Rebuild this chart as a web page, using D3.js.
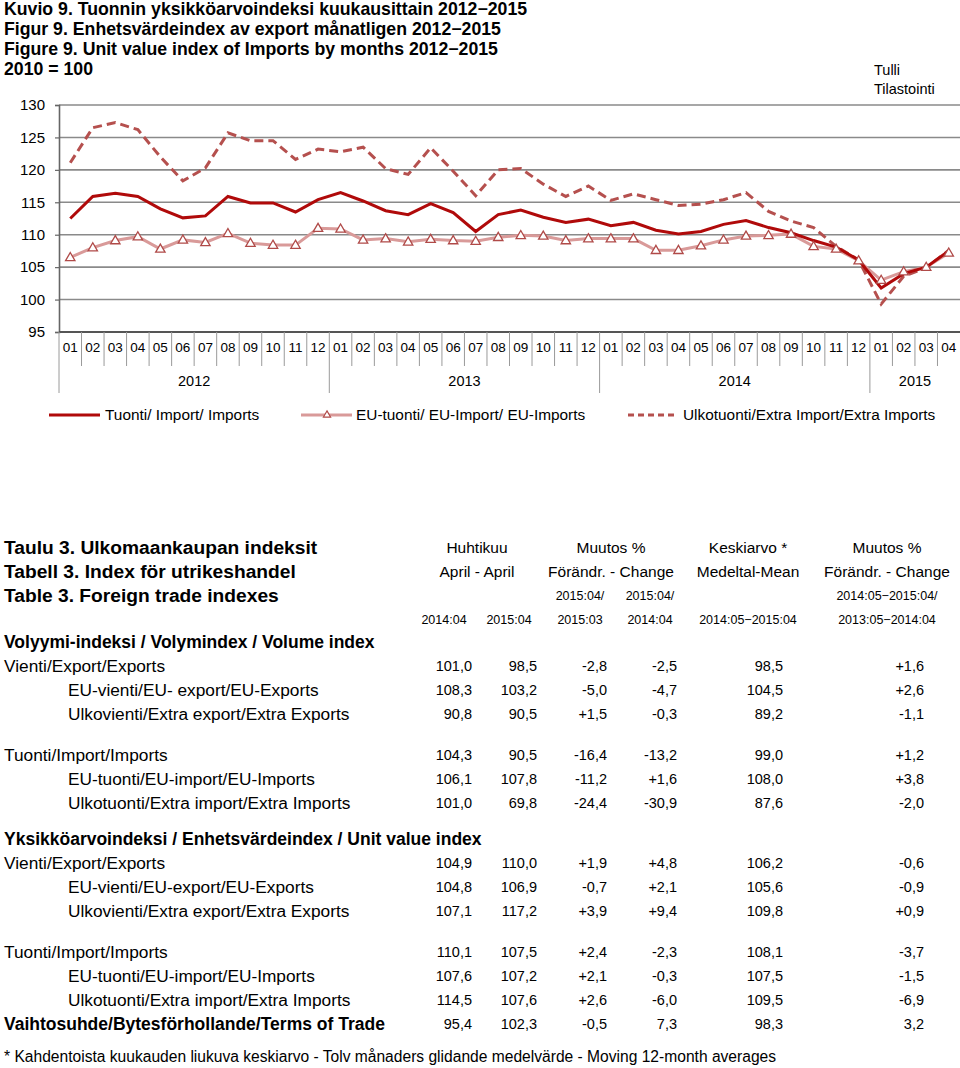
<!DOCTYPE html>
<html>
<head>
<meta charset="utf-8">
<script src="https://cdn.jsdelivr.net/npm/d3@7"></script>
<style>
  body { margin: 0; background: #fff; }
  svg { font-family: "Liberation Sans", Arial, sans-serif; }
</style>
</head>
<body>
<div id="vis"></div>
<script>
// chart data
const MONTHS = ["01","02","03","04","05","06","07","08","09","10","11","12",
                "01","02","03","04","05","06","07","08","09","10","11","12",
                "01","02","03","04","05","06","07","08","09","10","11","12",
                "01","02","03","04"];
const YEARS = ["2012", "2013", "2014", "2015"];
const Y_TICKS = [95, 100, 105, 110, 115, 120, 125, 130];

const IMPORTS = [112.5,115.9,116.4,115.9,114.0,112.6,112.9,115.9,114.9,114.9,113.5,115.4,
                 116.5,115.2,113.7,113.1,114.8,113.4,110.5,113.1,113.8,112.7,111.9,112.4,
                 111.4,111.9,110.7,110.1,110.5,111.6,112.2,111.1,110.3,109.1,108.1,106.1,
                 101.8,104.0,105.0,107.5];
const EU_IMPORTS = [106.5,108.0,109.1,109.7,107.8,109.2,108.8,110.2,108.7,108.4,108.4,111.0,
                    110.9,109.2,109.4,108.9,109.3,109.1,109.0,109.6,109.9,109.8,109.1,109.4,
                    109.4,109.4,107.6,107.6,108.3,109.2,109.8,109.9,110.1,108.2,107.8,106.0,
                    103.0,104.3,105.0,107.2];
const EXTRA_IMPORTS = [121.1,126.5,127.3,126.2,122.0,118.3,120.3,125.7,124.5,124.5,121.6,123.2,
                       122.8,123.5,120.2,119.3,123.4,119.8,116.0,120.0,120.2,117.8,115.9,117.5,
                       115.3,116.3,115.4,114.5,114.7,115.4,116.5,113.6,112.1,111.1,108.2,106.1,
                       99.3,103.6,104.9,107.6];

const TITLES = ["Kuvio 9. Tuonnin yksikköarvoindeksi kuukausittain 2012\u22122015",
                "Figur 9. Enhetsvärdeindex av export månatligen 2012\u22122015",
                "Figure 9. Unit value index of Imports by months 2012\u22122015",
                "2010 = 100"];
const SOURCE = ["Tulli", "Tilastointi"];
const LEGEND = ["Tuonti/ Import/ Imports", "EU-tuonti/ EU-Import/ EU-Imports",
                "Ulkotuonti/Extra Import/Extra Imports"];

// table data
const TABLE_TITLES = ["Taulu 3. Ulkomaankaupan indeksit", "Tabell 3. Index för utrikeshandel",
                      "Table 3. Foreign trade indexes"];
const HEAD_1 = ["Huhtikuu", "Muutos %", "Keskiarvo *", "Muutos %"];
const HEAD_2 = ["April - April", "Förändr. - Change", "Medeltal-Mean", "Förändr. - Change"];
const HEAD_3 = ["", "", "2015:04/", "2015:04/", "", "2014:05\u22122015:04/"];
const HEAD_4 = ["2014:04", "2015:04", "2015:03", "2014:04", "2014:05\u22122015:04", "2013:05\u22122014:04"];

const SECTION_LABELS = ["Volyymi-indeksi / Volymindex / Volume index",
                        "Yksikköarvoindeksi / Enhetsvärdeindex / Unit value index"];
const VOLUME_LABELS = ["Vienti/Export/Exports", "EU-vienti/EU- export/EU-Exports",
                       "Ulkovienti/Extra export/Extra Exports", "Tuonti/Import/Imports",
                       "EU-tuonti/EU-import/EU-Imports", "Ulkotuonti/Extra import/Extra Imports"];
const VOLUME_VALUES = [["101,0","98,5","-2,8","-2,5","98,5","+1,6"],
                       ["108,3","103,2","-5,0","-4,7","104,5","+2,6"],
                       ["90,8","90,5","+1,5","-0,3","89,2","-1,1"],
                       ["104,3","90,5","-16,4","-13,2","99,0","+1,2"],
                       ["106,1","107,8","-11,2","+1,6","108,0","+3,8"],
                       ["101,0","69,8","-24,4","-30,9","87,6","-2,0"]];
const UNIT_LABELS = ["Vienti/Export/Exports", "EU-vienti/EU-export/EU-Exports",
                     "Ulkovienti/Extra export/Extra Exports", "Tuonti/Import/Imports",
                     "EU-tuonti/EU-import/EU-Imports", "Ulkotuonti/Extra import/Extra Imports"];
const UNIT_VALUES = [["104,9","110,0","+1,9","+4,8","106,2","-0,6"],
                     ["104,8","106,9","-0,7","+2,1","105,6","-0,9"],
                     ["107,1","117,2","+3,9","+9,4","109,8","+0,9"],
                     ["110,1","107,5","+2,4","-2,3","108,1","-3,7"],
                     ["107,6","107,2","+2,1","-0,3","107,5","-1,5"],
                     ["114,5","107,6","+2,6","-6,0","109,5","-6,9"]];
const TOT_LABEL = "Vaihtosuhde/Bytesförhollande/Terms of Trade";
const TOT_VALUES = ["95,4","102,3","-0,5","7,3","98,3","3,2"];
const FOOTNOTE = "* Kahdentoista kuukauden liukuva keskiarvo - Tolv månaders glidande medelvärde - Moving 12-month averages";

// layout constants
const WIDTH = 960, HEIGHT = 1068;
const PLOT = {left: 59, right: 960, top: 105, bottom: 332};
const C_TOTAL = "#b00a0a", C_EU = "#d99a99", C_EU_MARK = "#b04a48", C_EXTRA = "#b5504e";
const GRID = "#8a8a8a";

const SVG = d3.select("#vis").append("svg")
    .attr("width", WIDTH).attr("height", HEIGHT);

// titles
SVG.selectAll(".title").data(TITLES).enter().append("text")
    .attr("x", 4).attr("y", (d, i) => 15 + i * 20)
    .attr("font-size", "17.7px").attr("font-weight", "bold").text(d => d);

SVG.selectAll(".src").data(SOURCE).enter().append("text")
    .attr("x", 874).attr("y", (d, i) => 75 + i * 19)
    .attr("font-size", "14.5px").text(d => d);

// scales
const X_SCALE = d3.scaleBand().domain(d3.range(MONTHS.length))
    .range([PLOT.left, PLOT.right]).paddingInner(0).paddingOuter(0);
const Y_SCALE = d3.scaleLinear().domain([95, 130]).range([PLOT.bottom, PLOT.top]);
const xc = i => X_SCALE(i) + X_SCALE.bandwidth() / 2;

// grid lines
SVG.append("g").selectAll("line").data(Y_TICKS.filter(v => v > 95)).enter().append("line")
    .attr("x1", PLOT.left).attr("x2", PLOT.right)
    .attr("y1", d => Y_SCALE(d)).attr("y2", d => Y_SCALE(d))
    .attr("stroke", GRID).attr("stroke-width", 1.6);

// y axis
const yAxis = SVG.append("g").attr("transform", "translate(" + PLOT.left + ",0)")
    .call(d3.axisLeft(Y_SCALE).tickValues(Y_TICKS).tickSize(4).tickPadding(10));
yAxis.select(".domain").attr("stroke", "#666").attr("stroke-width", 1.6);
yAxis.selectAll(".tick line").attr("stroke", "#666").attr("stroke-width", 1.2);
yAxis.selectAll(".tick text").attr("font-size", "15px").attr("fill", "#000")
    .attr("font-family", "Liberation Sans, Arial, sans-serif");

// x axis baseline
SVG.append("line").attr("x1", PLOT.left).attr("x2", PLOT.right)
    .attr("y1", PLOT.bottom).attr("y2", PLOT.bottom)
    .attr("stroke", "#555").attr("stroke-width", 2);

// month separators
SVG.append("g").selectAll("line").data(d3.range(MONTHS.length)).enter().append("line")
    .attr("x1", d => X_SCALE(d)).attr("x2", d => X_SCALE(d))
    .attr("y1", PLOT.bottom)
    .attr("y2", d => d % 12 === 0 ? 393 : 366)
    .attr("stroke", "#9a9a9a").attr("stroke-width", 1);

SVG.append("g").selectAll("text").data(MONTHS).enter().append("text")
    .attr("x", (d, i) => xc(i)).attr("y", 352)
    .attr("text-anchor", "middle").attr("font-size", "13.5px").text(d => d);

SVG.append("g").selectAll("text").data(YEARS).enter().append("text")
    .attr("x", (d, i) => {
        const a = X_SCALE(i * 12);
        const b = Math.min((i + 1) * 12, MONTHS.length);
        const e = b === MONTHS.length ? PLOT.right : X_SCALE(b);
        return (a + e) / 2;
    })
    .attr("y", 386).attr("text-anchor", "middle").attr("font-size", "14.5px").text(d => d);

// lines
const line = d3.line().x((d, i) => xc(i)).y(d => Y_SCALE(d));

SVG.append("path").datum(EXTRA_IMPORTS).attr("d", line)
    .attr("fill", "none").attr("stroke", C_EXTRA).attr("stroke-width", 3)
    .attr("stroke-dasharray", "9,5");

SVG.append("path").datum(EU_IMPORTS).attr("d", line)
    .attr("fill", "none").attr("stroke", C_EU).attr("stroke-width", 3);

SVG.append("path").datum(IMPORTS).attr("d", line)
    .attr("fill", "none").attr("stroke", C_TOTAL).attr("stroke-width", 3);

const tri = d3.symbol().type(d3.symbolTriangle).size(38);
SVG.append("g").selectAll("path").data(EU_IMPORTS).enter().append("path")
    .attr("d", tri)
    .attr("transform", (d, i) => "translate(" + xc(i) + "," + (Y_SCALE(d) + 0.5) + ")")
    .attr("fill", "#fff").attr("stroke", C_EU_MARK).attr("stroke-width", 1.3);

// legend
const LY = 415;
const leg = SVG.append("g").attr("font-size", "15.4px");
leg.append("line").attr("x1", 49).attr("x2", 100).attr("y1", LY).attr("y2", LY)
    .attr("stroke", C_TOTAL).attr("stroke-width", 3);
leg.append("text").attr("x", 105).attr("y", LY + 5).text(LEGEND[0]);
leg.append("line").attr("x1", 301).attr("x2", 352).attr("y1", LY).attr("y2", LY)
    .attr("stroke", C_EU).attr("stroke-width", 3);
leg.append("path").attr("d", d3.symbol().type(d3.symbolTriangle).size(22))
    .attr("transform", "translate(327," + LY + ")")
    .attr("fill", "#fff").attr("stroke", C_EU_MARK).attr("stroke-width", 1.2);
leg.append("text").attr("x", 356).attr("y", LY + 5).text(LEGEND[1]);
leg.append("line").attr("x1", 628).attr("x2", 677).attr("y1", LY).attr("y2", LY)
    .attr("stroke", C_EXTRA).attr("stroke-width", 3).attr("stroke-dasharray", "6,4");
leg.append("text").attr("x", 683).attr("y", LY + 5).text(LEGEND[2]);

// ---- table ----
const T = SVG.append("g");
const COL_RIGHT = [472, 537, 607, 677, 783, 924];
const HEAD_CENTERS = [477, 611, 748, 887];
const SUB_CENTERS = [444, 509, 580, 650, 748, 887];

T.selectAll(".tt").data(TABLE_TITLES).enter().append("text")
    .attr("x", 4).attr("y", (d, i) => 547 + i * 24).attr("dy", "0.35em")
    .attr("font-size", "19.2px").attr("font-weight", "bold").text(d => d);

T.selectAll(".h1").data(HEAD_1).enter().append("text")
    .attr("x", (d, i) => HEAD_CENTERS[i]).attr("y", 548).attr("dy", "0.35em")
    .attr("text-anchor", "middle").attr("font-size", "15.5px").text(d => d);
T.selectAll(".h2").data(HEAD_2).enter().append("text")
    .attr("x", (d, i) => HEAD_CENTERS[i]).attr("y", 572).attr("dy", "0.35em")
    .attr("text-anchor", "middle").attr("font-size", "15.5px").text(d => d);
T.selectAll(".h3").data(HEAD_3).enter().append("text")
    .attr("x", (d, i) => SUB_CENTERS[i]).attr("y", 596).attr("dy", "0.35em")
    .attr("text-anchor", "middle").attr("font-size", "12.5px").text(d => d);
T.selectAll(".h4").data(HEAD_4).enter().append("text")
    .attr("x", (d, i) => SUB_CENTERS[i]).attr("y", 620).attr("dy", "0.35em")
    .attr("text-anchor", "middle").attr("font-size", "12.5px").text(d => d);

function drawRow(label, values, y, indent, bold) {
    T.append("text").attr("x", indent ? 68 : 4).attr("y", y).attr("dy", "0.35em")
        .attr("font-size", bold ? "17.5px" : "17.3px")
        .attr("font-weight", bold ? "bold" : "normal").text(label);
    if (!values) return;
    T.append("g").selectAll("text").data(values).enter().append("text")
        .attr("x", (d, i) => COL_RIGHT[i]).attr("y", y).attr("dy", "0.35em")
        .attr("text-anchor", "end").attr("font-size", "14.5px").text(d => d);
}

const VOL_Y = [666, 690, 714, 755, 779, 803];
const UNIT_Y = [863, 887, 911, 952, 976, 1000];
drawRow(SECTION_LABELS[0], null, 642, false, true);
VOLUME_LABELS.forEach((l, i) => drawRow(l, VOLUME_VALUES[i], VOL_Y[i], i % 3 !== 0, false));
drawRow(SECTION_LABELS[1], null, 839, false, true);
UNIT_LABELS.forEach((l, i) => drawRow(l, UNIT_VALUES[i], UNIT_Y[i], i % 3 !== 0, false));
drawRow(TOT_LABEL, TOT_VALUES, 1024, false, true);

T.append("text").attr("x", 4).attr("y", 1057).attr("dy", "0.35em")
    .attr("font-size", "15.6px").text(FOOTNOTE);
</script>
</body>
</html>
